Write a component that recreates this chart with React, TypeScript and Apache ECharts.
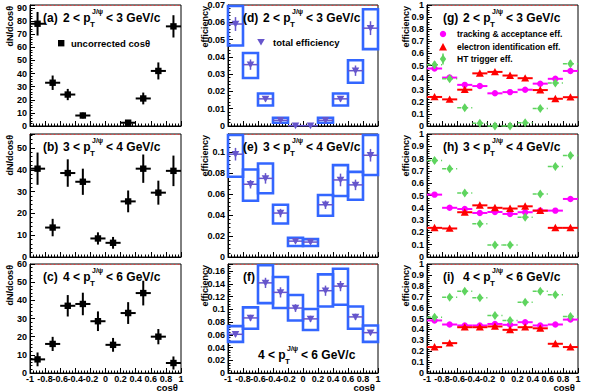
import React, { useEffect, useRef } from 'react';
import * as echarts from 'echarts';

// ---------- data ----------
const binCenters = [-0.9, -0.7, -0.5, -0.3, -0.1, 0.1, 0.3, 0.5, 0.7, 0.9];
const binHalfWidth = 0.1;
const xTickLabels = ['-1', '-0.8', '-0.6', '-0.4', '-0.2', '0', '0.2', '0.4', '0.6', '0.8', '1'];

// (a)(b)(c) uncorrected cos(theta) counts
const countsA = [78, 33, 24, 8, null, null, 2.5, 21, 42, 76];
const countErrA = [9, 5.5, 4.3, 2.2, 0, 0, 1.5, 4.5, 6.5, 8.5];
const countsB = [40.5, 13.5, 38.5, 34.5, 8.5, 6.5, 25.5, 40.5, 29.5, 39.5];
const countErrB = [7.4, 4, 6.3, 6, 2.8, 2.7, 5, 6.5, 5.5, 7];
const countsC = [7.5, 16, 37, 38, 28.5, 15.5, 33, 44, 20, 5.5];
const countErrC = [3.8, 3.9, 5.9, 6.2, 5.4, 3.8, 6, 6.8, 4.2, 3.6];

// (d)(e)(f) total efficiency, stat error, systematic band low/high (null = no band drawn)
const effD = [0.059, 0.0355, 0.0157, 0.0033, 0.0002, 0.0002, 0.0033, 0.0157, 0.032, 0.0566];
const effStatD = [0.004, 0.003, 0.0015, 0.0005, 0.0002, 0.0002, 0.0005, 0.0015, 0.003, 0.004];
const effSysLoD = [0.0466, 0.0278, 0.0119, 0.0019, null, null, 0.0019, 0.0119, 0.025, 0.0445];
const effSysHiD = [0.0694, 0.0422, 0.0188, 0.0048, null, null, 0.0048, 0.0188, 0.038, 0.0675];

const effE = [0.0978, 0.0692, 0.0748, 0.0418, 0.0151, 0.0142, 0.0497, 0.0733, 0.0686, 0.0968];
const effStatE = [0.006, 0.004, 0.005, 0.004, 0.002, 0.002, 0.004, 0.006, 0.005, 0.006];
const effSysLoE = [0.0764, 0.0535, 0.0607, 0.0318, 0.0104, 0.0104, 0.0393, 0.058, 0.0544, 0.078];
const effSysHiE = [0.116, 0.0833, 0.089, 0.0497, 0.0182, 0.017, 0.059, 0.0874, 0.081, 0.116];

const effF = [0.0607, 0.0864, 0.1414, 0.1265, 0.1019, 0.0849, 0.1291, 0.1363, 0.088, 0.0633];
const effStatF = [0.004, 0.005, 0.008, 0.008, 0.006, 0.005, 0.008, 0.008, 0.005, 0.004];
const effSysLoF = [0.0489, 0.0694, 0.1096, 0.1019, 0.0823, 0.0674, 0.1044, 0.107, 0.0694, 0.0489];
const effSysHiF = [0.0736, 0.103, 0.169, 0.1507, 0.1224, 0.1003, 0.1548, 0.1636, 0.1044, 0.0746];

// (g)(h)(i) component efficiencies
const trackG = [0.475, 0.4, 0.34, 0.33, 0.27, 0.28, 0.3, 0.35, 0.39, 0.455];
const trackErrG = [0.006, 0.005, 0.005, 0.005, 0.005, 0.005, 0.005, 0.005, 0.005, 0.006];
const eidG = [0.24, 0.22, 0.3, 0.435, 0.447, 0.417, 0.395, 0.297, 0.225, 0.238];
const eidErrG = [0.01, 0.01, 0.012, 0.012, 0.012, 0.012, 0.012, 0.012, 0.01, 0.01];
const trigG = [0.507, 0.39, 0.15, 0.022, 0.0, 0.0, 0.027, 0.145, 0.356, 0.515];
const trigErrG = [0.03, 0.025, 0.02, 0.015, 0.01, 0.01, 0.015, 0.02, 0.025, 0.03];

const trackH = [0.507, 0.4, 0.39, 0.358, 0.366, 0.35, 0.364, 0.377, 0.377, 0.472];
const trackErrH = [0.006, 0.005, 0.005, 0.005, 0.005, 0.005, 0.005, 0.005, 0.005, 0.006];
const eidH = [0.237, 0.232, 0.364, 0.42, 0.4, 0.394, 0.412, 0.377, 0.237, 0.237];
const eidErrH = [0.01, 0.01, 0.012, 0.012, 0.012, 0.012, 0.012, 0.012, 0.01, 0.01];
const trigH = [0.784, 0.717, 0.52, 0.27, 0.097, 0.097, 0.323, 0.512, 0.736, 0.825];
const trigErrH = [0.025, 0.02, 0.02, 0.02, 0.015, 0.015, 0.02, 0.02, 0.02, 0.025];

const trackI = [0.482, 0.445, 0.436, 0.436, 0.45, 0.442, 0.466, 0.436, 0.445, 0.49];
const trackErrI = [0.006, 0.005, 0.005, 0.005, 0.005, 0.005, 0.005, 0.005, 0.005, 0.006];
const eidI = [0.238, 0.274, 0.42, 0.42, 0.427, 0.396, 0.42, 0.41, 0.268, 0.238];
const eidErrI = [0.01, 0.01, 0.012, 0.012, 0.012, 0.012, 0.012, 0.012, 0.01, 0.01];
const trigI = [0.512, 0.695, 0.75, 0.69, 0.527, 0.482, 0.65, 0.75, 0.717, 0.518];
const trigErrI = [0.025, 0.02, 0.02, 0.02, 0.02, 0.02, 0.02, 0.02, 0.02, 0.025];

// axis ranges per panel (a,d,g / b,e,h / c,f,i)
const yMaxes = [92.3, 0.07, 1, 56.4, 0.117, 1, 60, 0.171, 1];
const yIntervals = [10, 0.01, 0.1, 10, 0.02, 0.1, 10, 0.02, 0.1];
const panelTags = ['a', 'd', 'g', 'b', 'e', 'h', 'c', 'f', 'i'];
const ptLow = ['2', '3', '4'];
const ptHigh = ['3', '4', '6'];

// ---------- layout ----------
const colLeft = [30, 228, 427];
const colWidth = [151, 150, 151];
const rowTop = [5, 134, 264];
const rowHeight = [121, 123, 109];

const FONT = 'Liberation Sans, Arial, Helvetica, sans-serif';
const BLUE = '#3366ff';
const PURPLE = '#6655cc';
const MAGENTA = '#ff00ff';
const RED = '#ff0000';
const GREEN = '#5fd45f';

function clampY(py: number, cs: any) {
  return Math.max(cs.y, Math.min(cs.y + cs.height, py));
}

function countSeries(gi: number, vals: (number | null)[], errs: number[]) {
  const data = binCenters
    .map((x, i) => (vals[i] == null ? null : [x, vals[i] as number, errs[i]]))
    .filter((d) => d !== null);
  return {
    type: 'custom',
    xAxisIndex: gi,
    yAxisIndex: gi,
    clip: false,
    data,
    renderItem: (params: any, api: any) => {
      const cs = params.coordSys;
      const x = api.value(0);
      const y = api.value(1);
      const e = api.value(2);
      const pl = api.coord([x - binHalfWidth, y]);
      const pr = api.coord([x + binHalfWidth, y]);
      const pt = api.coord([x, y + e]);
      const pb = api.coord([x, y - e]);
      const c = api.coord([x, y]);
      return {
        type: 'group',
        children: [
          { type: 'line', shape: { x1: pl[0], y1: pl[1], x2: pr[0], y2: pr[1] }, style: { stroke: '#000', lineWidth: 2 } },
          { type: 'line', shape: { x1: c[0], y1: clampY(pt[1], cs), x2: c[0], y2: clampY(pb[1], cs) }, style: { stroke: '#000', lineWidth: 2 } },
          { type: 'rect', shape: { x: c[0] - 3.2, y: c[1] - 3.2, width: 6.4, height: 6.4 }, style: { fill: '#000' } },
        ],
      };
    },
  };
}

function effSeries(gi: number, vals: number[], stat: number[], lo: (number | null)[], hi: (number | null)[]) {
  const data = binCenters.map((x, i) => [x, vals[i], stat[i], lo[i] == null ? -1 : lo[i], hi[i] == null ? -1 : hi[i]]);
  return {
    type: 'custom',
    xAxisIndex: gi,
    yAxisIndex: gi,
    clip: false,
    data,
    renderItem: (params: any, api: any) => {
      const cs = params.coordSys;
      const x = api.value(0);
      const y = api.value(1);
      const s = api.value(2);
      const l = api.value(3);
      const h = api.value(4);
      const pl = api.coord([x - binHalfWidth, y]);
      const pr = api.coord([x + binHalfWidth, y]);
      const pt = api.coord([x, y + s]);
      const pb = api.coord([x, y - s]);
      const c = api.coord([x, y]);
      const children: any[] = [];
      if (h >= 0 && l >= 0) {
        const p0 = api.coord([x - binHalfWidth, h]);
        const p1 = api.coord([x + binHalfWidth, l]);
        const yTop = clampY(p0[1], cs);
        const yBot = clampY(p1[1], cs);
        children.push({ type: 'rect', shape: { x: p0[0], y: yTop, width: p1[0] - p0[0], height: Math.max(yBot - yTop, 0.5) }, style: { fill: 'none', stroke: BLUE, lineWidth: 2.6 } });
      }
      children.push(
        { type: 'line', shape: { x1: pl[0], y1: pl[1], x2: pr[0], y2: pr[1] }, style: { stroke: PURPLE, lineWidth: 1.5 } },
        { type: 'line', shape: { x1: c[0], y1: clampY(pt[1], cs), x2: c[0], y2: clampY(pb[1], cs) }, style: { stroke: PURPLE, lineWidth: 1.5 } },
        { type: 'polygon', shape: { points: [[c[0] - 3.8, c[1] - 3.2], [c[0] + 3.8, c[1] - 3.2], [c[0], c[1] + 3.6]] }, style: { fill: PURPLE } }
      );
      return { type: 'group', children };
    },
  };
}

function compSeries(gi: number, vals: number[], errs: number[], kind: 'track' | 'eid' | 'trig') {
  const data = binCenters.map((x, i) => [x, vals[i], errs[i]]);
  const color = kind === 'track' ? MAGENTA : kind === 'eid' ? RED : GREEN;
  return {
    type: 'custom',
    xAxisIndex: gi,
    yAxisIndex: gi,
    clip: false,
    data,
    renderItem: (params: any, api: any) => {
      const cs = params.coordSys;
      const x = api.value(0);
      const y = api.value(1);
      const e = api.value(2);
      const pl = api.coord([x - binHalfWidth, y]);
      const pr = api.coord([x + binHalfWidth, y]);
      const pt = api.coord([x, y + e]);
      const pb = api.coord([x, y - e]);
      const c = api.coord([x, y]);
      const cx = c[0];
      const cy = c[1];
      let marker: any;
      if (kind === 'track') {
        marker = { type: 'circle', shape: { cx, cy, r: 3.2 }, style: { fill: color } };
      } else if (kind === 'eid') {
        marker = { type: 'polygon', shape: { points: [[cx - 4, cy + 3.4], [cx + 4, cy + 3.4], [cx, cy - 4]] }, style: { fill: color } };
      } else {
        marker = { type: 'polygon', shape: { points: [[cx, cy - 4.5], [cx + 3.2, cy], [cx, cy + 4.5], [cx - 3.2, cy]] }, style: { fill: color } };
      }
      const hline: any = { type: 'line', shape: { x1: pl[0], y1: pl[1], x2: pr[0], y2: pr[1] }, style: { stroke: color, lineWidth: kind === 'trig' ? 1.5 : 2 } };
      if (kind === 'trig') hline.style.lineDash = [4, 3];
      return {
        type: 'group',
        children: [
          hline,
          { type: 'line', shape: { x1: cx, y1: clampY(pt[1], cs), x2: cx, y2: clampY(pb[1], cs) }, style: { stroke: color, lineWidth: 1.5 } },
          marker,
        ],
      };
    },
  };
}

function txt(text: string, x: number, y: number, size: number, align = 'left', extra: any = {}, lineHeight?: number) {
  const style: any = {
    text,
    fontSize: size,
    fontWeight: 'bold',
    fontFamily: FONT,
    fill: '#000',
    textAlign: align,
    textVerticalAlign: 'middle',
  };
  if (lineHeight) style.lineHeight = lineHeight;
  return {
    type: 'text',
    x,
    y,
    z: 100,
    ...extra,
    style,
  };
}

function ptLabel(x: number, y: number, lo: string, hi: string, tag: string | null) {
  const els: any[] = [];
  let px = x;
  if (tag) {
    els.push(txt(`(${tag})`, x, y, 12));
    px = x + 20;
  }
  els.push(txt(`${lo} < p`, px, y, 12));
  els.push(txt('T', px + 27, y + 6, 8));
  els.push(txt('J/ψ', px + 29, y - 6.5, 7));
  els.push(txt(`< ${hi} GeV/c`, px + 43, y, 12));
  return els;
}

function fmtTick(v: number, interval: number, digits: number) {
  const k = v / interval;
  if (Math.abs(k - Math.round(k)) > 1e-6) return '';
  return String(+v.toFixed(digits));
}

function buildOption() {
  const grids: any[] = [];
  const xAxes: any[] = [];
  const topAxes: any[] = [];
  const yAxes: any[] = [];
  const labelStyle = { fontFamily: FONT, fontWeight: 'bold', fontSize: 9, color: '#000', lineHeight: 9 };
  for (let gi = 0; gi < 9; gi++) {
    const row = Math.floor(gi / 3);
    const col = gi % 3;
    grids.push({
      left: colLeft[col],
      top: rowTop[row],
      width: colWidth[col],
      height: rowHeight[row],
      show: true,
      borderColor: '#000',
      borderWidth: 1,
      backgroundColor: 'transparent',
      containLabel: false,
      outerBoundsMode: 'none',
    });
    xAxes.push({
      type: 'value',
      gridIndex: gi,
      min: -1,
      max: 1,
      interval: 0.2,
      axisLine: { show: true, onZero: false, lineStyle: { color: '#000', width: 1 } },
      axisTick: { show: true, inside: true, length: 5, lineStyle: { color: '#000', width: 1 } },
      minorTick: { show: true, splitNumber: 5, length: 2.5, lineStyle: { color: '#000', width: 1 } },
      splitLine: { show: false },
      minorSplitLine: { show: false },
      axisLabel: {
        show: row === 2,
        margin: 1,
        ...labelStyle,
        formatter: (v: number) => {
          const idx = Math.round((v + 1) / 0.2);
          return Math.abs(v + 1 - idx * 0.2) < 1e-6 ? xTickLabels[idx] : '';
        },
      },
    });
    topAxes.push({
      type: 'value',
      gridIndex: gi,
      position: 'top',
      min: -1,
      max: 1,
      axisLine: { show: true, onZero: false, lineStyle: { color: '#e04040', width: 1, type: [1, 3] } },
      axisTick: { show: false },
      axisLabel: { show: false },
      splitLine: { show: false },
    });
    const interval = yIntervals[gi];
    const digits = interval >= 1 ? 0 : interval >= 0.1 ? 1 : 2;
    yAxes.push({
      type: 'value',
      gridIndex: gi,
      min: 0,
      max: yMaxes[gi],
      interval,
      axisLine: { show: true, onZero: false, lineStyle: { color: '#000', width: 1 } },
      axisTick: { show: true, inside: true, length: 5, lineStyle: { color: '#000', width: 1 } },
      minorTick: { show: true, splitNumber: 5, length: 2.5, lineStyle: { color: '#000', width: 1 } },
      splitLine: { show: false },
      minorSplitLine: { show: false },
      axisLabel: {
        show: true,
        margin: 3,
        ...labelStyle,
        lineHeight: 7,
        formatter: (v: number) => fmtTick(v, interval, digits),
      },
    });
  }

  const series: any[] = [
    countSeries(0, countsA, countErrA),
    effSeries(1, effD, effStatD, effSysLoD, effSysHiD),
    compSeries(2, trackG, trackErrG, 'track'),
    compSeries(2, eidG, eidErrG, 'eid'),
    compSeries(2, trigG, trigErrG, 'trig'),
    countSeries(3, countsB, countErrB),
    effSeries(4, effE, effStatE, effSysLoE, effSysHiE),
    compSeries(5, trackH, trackErrH, 'track'),
    compSeries(5, eidH, eidErrH, 'eid'),
    compSeries(5, trigH, trigErrH, 'trig'),
    countSeries(6, countsC, countErrC),
    effSeries(7, effF, effStatF, effSysLoF, effSysHiF),
    compSeries(8, trackI, trackErrI, 'track'),
    compSeries(8, eidI, eidErrI, 'eid'),
    compSeries(8, trigI, trigErrI, 'trig'),
  ];

  const elements: any[] = [];
  const tagX = [43, 243, 443];
  for (let gi = 0; gi < 9; gi++) {
    const row = Math.floor(gi / 3);
    const col = gi % 3;
    const ty = rowTop[row] + 13;
    if (gi === 7) {
      elements.push(txt('(f)', tagX[col], ty, 12));
      elements.push(...ptLabel(258, 355, ptLow[row], ptHigh[row], null));
    } else {
      elements.push(...ptLabel(tagX[col], ty, ptLow[row], ptHigh[row], panelTags[gi]));
    }
    // y axis titles
    const nameX = [10, 205, 406][col];
    elements.push(
      txt(col === 0 ? 'dN/dcosθ' : 'efficiency', nameX, rowTop[row] + 1, 9, 'right', { rotation: Math.PI / 2 })
    );
  }
  // x axis titles
  for (let col = 0; col < 3; col++) {
    elements.push(txt('cosθ', colLeft[col] + colWidth[col] - 3, 387.5, 9.5, 'right', {}, 9));
  }
  // legends
  elements.push({ type: 'rect', z: 100, shape: { x: 58, y: 40, width: 6.4, height: 6.4 }, style: { fill: '#000' } });
  elements.push(txt('uncorrected cosθ', 71, 43.5, 9.5));
  elements.push({ type: 'polygon', z: 100, shape: { points: [[257.2, 39], [264.8, 39], [261, 45.5]] }, style: { fill: PURPLE } });
  elements.push(txt('total efficiency', 273, 42, 9.5));
  elements.push({ type: 'circle', z: 100, shape: { cx: 443, cy: 34, r: 3.2 }, style: { fill: MAGENTA } });
  elements.push(txt('tracking & acceptance eff.', 457, 34, 8.5));
  elements.push({ type: 'polygon', z: 100, shape: { points: [[439, 50.4], [447, 50.4], [443, 43]] }, style: { fill: RED } });
  elements.push(txt('electron identification eff.', 457, 47, 8.5));
  elements.push({ type: 'line', z: 100, shape: { x1: 443, y1: 53.5, x2: 443, y2: 64.5 }, style: { stroke: GREEN, lineWidth: 1.5 } });
  elements.push({ type: 'polygon', z: 100, shape: { points: [[443, 54.5], [446.2, 59], [443, 63.5], [439.8, 59]] }, style: { fill: GREEN } });
  elements.push(txt('HT trigger eff.', 457, 59, 8.5));

  return {
    animation: false,
    backgroundColor: '#fff',
    grid: grids,
    xAxis: [...xAxes, ...topAxes],
    yAxis: yAxes,
    series,
    graphic: { elements },
  };
}

export default function App() {
  const ref = useRef<HTMLDivElement>(null);
  useEffect(() => {
    if (!ref.current) return;
    const chart = echarts.init(ref.current, null, { renderer: 'svg', width: 600, height: 392 });
    chart.setOption(buildOption() as any);
    return () => chart.dispose();
  }, []);
  return (
    <div
      ref={ref}
      style={{ position: 'absolute', left: 0, top: 0, width: 600, height: 392, background: '#fff' }}
    />
  );
}
